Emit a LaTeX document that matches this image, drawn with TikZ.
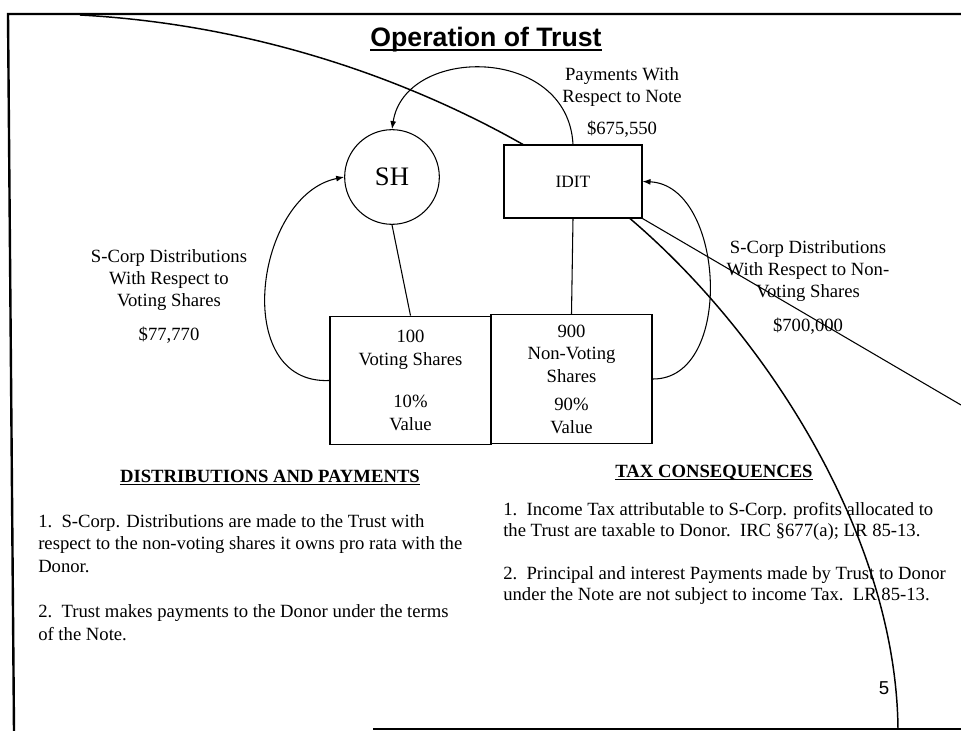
\documentclass[tikz,border=0pt]{standalone}
\usepackage{fontspec}
\setmainfont{Liberation Serif}
\newfontfamily\arialfont{Liberation Sans}
\usetikzlibrary{arrows.meta}

\tikzset{
    every node/.style={inner sep=0pt},
    lbl/.style={font=\fontsize{14}{16.5}\selectfont, align=center, anchor=north},
    para/.style={font=\fontsize{14}{17}\selectfont, align=left, anchor=north west},
    head/.style={font=\fontsize{14}{17}\selectfont\bfseries, anchor=base},
    sharebox/.style={draw, line width=0.8pt, minimum width=120.75pt, minimum height=96.5pt,
        font=\fontsize{14}{17}\selectfont, align=center},
    flow/.style={line width=0.8pt, -{Latex[length=6pt,width=4.5pt]}},
    link/.style={line width=0.8pt},
    frame/.style={line width=1.8pt},
    sweep/.style={line width=1.1pt}
}

\begin{document}
\begin{tikzpicture}[x=0.75pt, y=-0.75pt]
    \useasboundingbox (0,0) rectangle (961,731);

    % Frame
    \draw[frame] (961,14) -- (8,14) -- (14,731);
    \draw[frame] (373,729) -- (961,729);

    % Long sweep behind the trust box
    \coordinate (sweepA) at (80,15);
    \coordinate (sweepB) at (580,180);
    \coordinate (sweepC) at (898,729);
    \draw[sweep] (sweepA) .. controls (320,28) and (500,125) .. (sweepB)
        .. controls (735,287) and (896,515) .. (sweepC);

    % Nodes
    \node[font=\arialfont\bfseries\fontsize{20}{24}\selectfont, anchor=base] (title) at (486,47) {Operation of Trust};
    \node[circle, draw, line width=0.8pt, minimum size=71pt, font=\fontsize{20}{24}\selectfont] (sh) at (392,177) {SH};
    \node[draw, line width=0.8pt, fill=white, minimum width=103.5pt, minimum height=54.75pt,
        font=\fontsize{13}{15}\selectfont] (idit) at (573,181.5) {IDIT};
    \node[sharebox] (vote) at (410.5,380.5) {100\\Voting Shares\\[15pt]10\%\\Value};
    \node[sharebox] (nonvote) at (571.5,379) {900\\Non-Voting\\Shares\\[4pt]90\%\\Value};

    \node[lbl] (paylbl) at (622,67) {Payments With\\Respect to Note\\[8pt]\$675,550};
    \node[lbl] (votelbl) at (169,249) {S-Corp Distributions\\With Respect to\\Voting Shares\\[9pt]\$77,770};
    \node[lbl] (nonvotelbl) at (808,240) {S-Corp Distributions\\With Respect to Non-\\Voting Shares\\[9.5pt]\$700,000};

    \node[head] (disthead) at (270,482) {DISTRIBUTIONS AND PAYMENTS};
    \node[head] (taxhead) at (714,477) {TAX CONSEQUENCES};
    \node[para] (distpara) at (38,514) {1.\ \ S-Corp. Distributions are made to the Trust with\\
        respect to the non-voting shares it owns pro rata with the\\
        Donor.\\[17pt]
        2.\ \ Trust makes payments to the Donor under the terms\\
        of the Note.};
    \node[para, font=\fontsize{14}{16}\selectfont] (taxpara) at (503,502) {1.\ \ Income Tax attributable to S-Corp. profits allocated to\\
        the Trust are taxable to Donor.\ \ IRC \S677(a); LR 85-13.\\[16pt]
        2.\ \ Principal and interest Payments made by Trust to Donor\\
        under the Note are not subject to income Tax.\ \ LR 85-13.};
    \node[font=\arialfont\fontsize{14}{16}\selectfont] (page) at (884,688) {5};

    % Underlines
    \draw[line width=1.5pt] ([yshift=-2.5pt]title.base west) -- ([yshift=-2.5pt]title.base east);
    \draw[line width=0.9pt] ([yshift=-1.8pt]disthead.base west) -- ([yshift=-1.8pt]disthead.base east);
    \draw[line width=0.9pt] ([yshift=-1.8pt]taxhead.base west) -- ([yshift=-1.8pt]taxhead.base east);

    % Edges
    \draw[link] (sh.south) -- (vote.north);
    \draw[link] (idit.south) -- (nonvote.north);
    \draw[flow] (idit.north) .. controls (568,45) and (405,45) .. (sh.north);
    \draw[flow] (vote.west) .. controls (230,385) and (255,195) .. (sh.west);
    \draw[flow] (nonvote.east) .. controls (735,380) and (725,185) .. (idit.east);
    \coordinate (rimR) at (961,405);
    \draw[link] (idit.south east) -- (rimR);
\end{tikzpicture}
\end{document}
